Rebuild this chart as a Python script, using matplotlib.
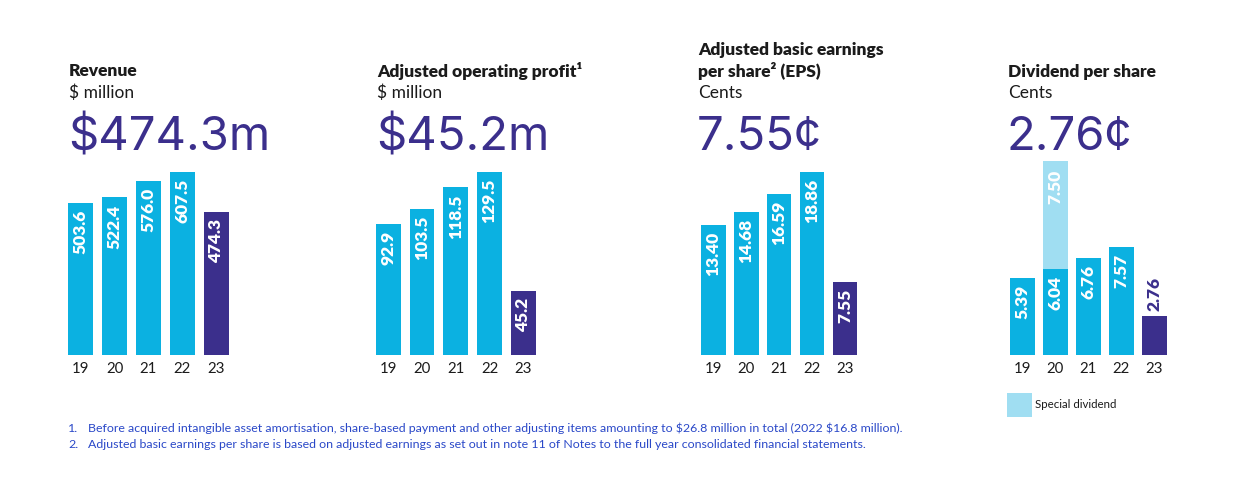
import matplotlib
matplotlib.use("Agg")
import matplotlib.pyplot as plt
from matplotlib.patches import Rectangle

plt.rcParams['font.family'] = ['Lato', 'DejaVu Sans']

# ---- data ----
years = ['19', '20', '21', '22', '23']
revenue = [503.6, 522.4, 576.0, 607.5, 474.3]
aop = [92.9, 103.5, 118.5, 129.5, 45.2]
eps = [13.40, 14.68, 16.59, 18.86, 7.55]
dps = [5.39, 6.04, 6.76, 7.57, 2.76]
special = [0.0, 7.50, 0.0, 0.0, 0.0]

titles = [["Revenue"], ["Adjusted operating profit¹"],
          ["Adjusted basic earnings", "per share² (EPS)"], ["Dividend per share"]]
units = ["$ million", "$ million", "Cents", "Cents"]
headlines = ["$474.3m", "$45.2m", "7.55¢", "2.76¢"]
footnotes = [
    "Before acquired intangible asset amortisation, share-based payment and other adjusting items amounting to $26.8 million in total (2022 $16.8 million).",
    "Adjusted basic earnings per share is based on adjusted earnings as set out in note 11 of Notes to the full year consolidated financial statements.",
]
legend_label = "Special dividend"

CYAN = '#0BB1E1'
PURPLE = '#3B2F8C'
LIGHT = '#A0DEF2'
DARK = '#1B1B1B'
FOOT = '#2A48C8'

W, H = 1240, 484
fig = plt.figure(figsize=(W / 100, H / 100), dpi=100)


def fx(x):
    return x / W


def fy(y):
    return 1 - y / H


# panel geometry in pixels
text_x = [69, 377, 698, 1008]
c0 = [80.8, 388.3, 713.3, 1022.2]
pitch = [33.85, 33.75, 32.9, 33.0]
bar_px = 24.7
ax_bottom_px = 355
ax_top_px = 155
full_px = 183.3

series = [revenue, aop, eps, dps]
fmts = ['{:.1f}', '{:.1f}', '{:.2f}', '{:.2f}']
LABEL_FS = 12.5

for p in range(4):
    left = c0[p] - 0.5 * pitch[p]
    width = 5 * pitch[p]
    ax = fig.add_axes([fx(left), fy(ax_bottom_px), width / W, (ax_bottom_px - ax_top_px) / H])
    vals = series[p]
    xs = list(range(5))
    bw = bar_px / pitch[p]
    colors = [CYAN] * 4 + [PURPLE]
    ax.bar(xs, vals, width=bw, color=colors, linewidth=0)
    if p < 3:
        top = max(vals) * (ax_bottom_px - ax_top_px) / full_px
    else:
        top = (ax_bottom_px - ax_top_px) / 14.3
        ax.bar(xs, special, bottom=vals, width=bw, color=LIGHT, linewidth=0)
    ax.set_ylim(0, top)
    ax.set_xlim(-0.5, 4.5)
    for s in ax.spines.values():
        s.set_visible(False)
    ax.set_yticks([])
    ax.set_xticks(xs)
    ax.set_xticklabels(years, fontsize=10.8, color=DARK)
    ax.tick_params(axis='x', length=0, pad=5)
    ax.patch.set_alpha(0)
    for i, v in enumerate(vals):
        lab = fmts[p].format(v)
        if p == 3 and v < 4:
            ax.annotate(lab, (i, v), xytext=(0, 5), textcoords='offset pixels',
                        rotation=90, ha='center', va='bottom', color=PURPLE,
                        fontsize=LABEL_FS, fontweight='heavy')
        else:
            ax.annotate(lab, (i, v), xytext=(0, -7), textcoords='offset pixels',
                        rotation=90, ha='center', va='top', color='white',
                        fontsize=LABEL_FS, fontweight='heavy')
    if p == 3:
        for i, s in enumerate(special):
            if s > 0:
                ax.annotate(fmts[p].format(s), (i, vals[i] + s), xytext=(0, -8),
                            textcoords='offset pixels', rotation=90, ha='center',
                            va='top', color='white', fontsize=LABEL_FS, fontweight='heavy')

    # titles
    tl = titles[p]
    base = 76.5
    for k, line in enumerate(reversed(tl)):
        fig.text(fx(text_x[p]), fy(base - 22 * k), line, fontsize=12.5,
                 fontweight='heavy', color=DARK, va='baseline', ha='left', parse_math=False)
    fig.text(fx(text_x[p]), fy(98), units[p], fontsize=12.5, color=DARK,
             va='baseline', ha='left', parse_math=False)
    fig.text(fx(text_x[p] - 1), fy(150.5), headlines[p], fontsize=34, color=PURPLE,
             family=['Inter', 'Lato', 'DejaVu Sans'],
             va='baseline', ha='left', parse_math=False)

# legend
fig.patches.append(Rectangle((fx(1006.7), fy(417)), 25 / W, 24 / H,
                             transform=fig.transFigure, facecolor=LIGHT, edgecolor='none'))
fig.text(fx(1035), fy(405), legend_label, fontsize=8.3, color=DARK, va='center', ha='left')

# footnotes
for k, note in enumerate(footnotes):
    y = 432 + 16 * k
    fig.text(fx(68), fy(y), f"{k + 1}.", fontsize=8.9, color=FOOT, va='baseline',
             ha='left', parse_math=False)
    fig.text(fx(88), fy(y), note, fontsize=8.9, color=FOOT, va='baseline',
             ha='left', parse_math=False)

fig.savefig('out.png', dpi=100)
